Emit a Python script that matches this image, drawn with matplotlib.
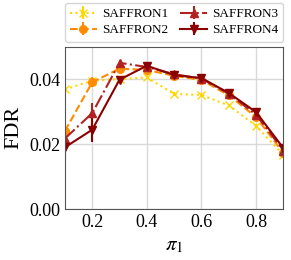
import numpy as np
import matplotlib
matplotlib.use("Agg")
import matplotlib.pyplot as plt

plt.rcParams["font.family"] = ["Liberation Serif", "DejaVu Serif"]
plt.rcParams["mathtext.fontset"] = "stix"

pi1 = [0.1, 0.2, 0.3, 0.4, 0.5, 0.6, 0.7, 0.8, 0.9]

saffron1 = [0.0368, 0.0395, 0.0400, 0.0405, 0.0354, 0.0351, 0.0319, 0.0256, 0.0166]
saffron1_err = [0.0022, 0.0012, 0.0008, 0.0006, 0.0005, 0.0005, 0.0005, 0.0006, 0.0006]
saffron2 = [0.0240, 0.0390, 0.0432, 0.0428, 0.0410, 0.0397, 0.0350, 0.0283, 0.0172]
saffron2_err = [0.0025, 0.0015, 0.0008, 0.0006, 0.0005, 0.0005, 0.0005, 0.0006, 0.0006]
saffron3 = [0.0217, 0.0295, 0.0450, 0.0437, 0.0415, 0.0401, 0.0355, 0.0290, 0.0180]
saffron3_err = [0.0030, 0.0030, 0.0008, 0.0006, 0.0005, 0.0005, 0.0005, 0.0005, 0.0005]
saffron4 = [0.0190, 0.0244, 0.0398, 0.0441, 0.0412, 0.0403, 0.0357, 0.0298, 0.0187]
saffron4_err = [0.0038, 0.0038, 0.0010, 0.0006, 0.0005, 0.0005, 0.0005, 0.0005, 0.0005]

series = [
    ("SAFFRON1", saffron1, saffron1_err, "#FFD700", ":", "x"),
    ("SAFFRON2", saffron2, saffron2_err, "#FF8C00", "--", "o"),
    ("SAFFRON3", saffron3, saffron3_err, "#B22222", "-.", "^"),
    ("SAFFRON4", saffron4, saffron4_err, "#8B0000", "-", "v"),
]

fig = plt.figure(figsize=(2.91, 2.6), dpi=100)
ax = fig.add_axes([0.223, 0.196, 0.751, 0.625])

for name, vals, err, col, ls, mk in series:
    ax.errorbar(pi1, vals, yerr=err, color=col, linestyle=ls, marker=mk,
                markersize=5.5, linewidth=1.5, elinewidth=1.5, label=name)

ax.set_xlim(0.1, 0.9)
ax.set_ylim(0.0, 0.05)
ax.set_xticks([0.2, 0.4, 0.6, 0.8])
ax.set_yticks([0.00, 0.02, 0.04])
ax.set_yticklabels(["0.00", "0.02", "0.04"])
ax.tick_params(labelsize=13, length=0)
ax.grid(True, color="#d9d9d9", linewidth=1)
ax.set_axisbelow(True)
for sp in ax.spines.values():
    sp.set_color("#555555")

ax.set_xlabel(r"$\pi_1$", fontsize=15)
ax.set_ylabel("FDR", fontsize=16)

ax.legend(loc="lower left", bbox_to_anchor=(0, 1.03, 1, 0.2), mode="expand",
          ncol=2, fontsize=9.5, handlelength=2.0, borderaxespad=0,
          handletextpad=0.4, columnspacing=1.0, labelspacing=0.3)

fig.savefig("out.png", dpi=100)
